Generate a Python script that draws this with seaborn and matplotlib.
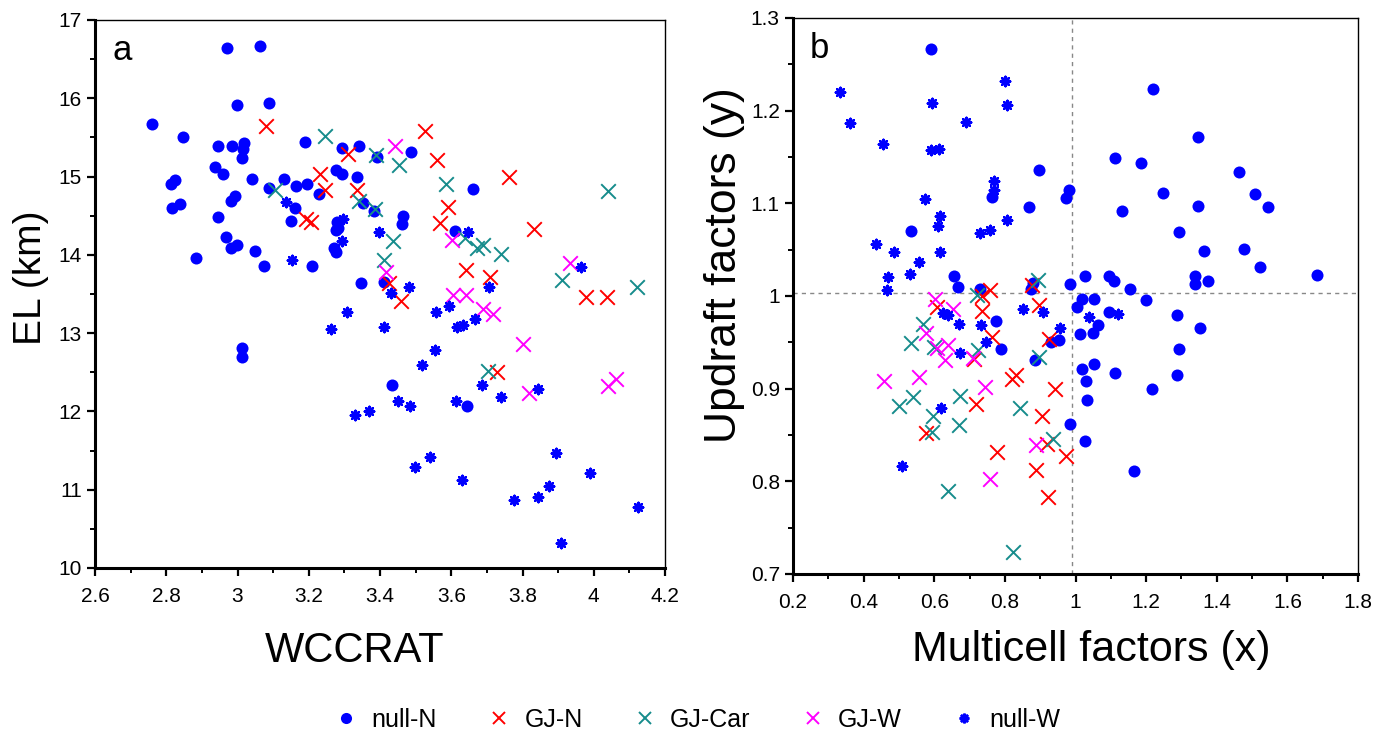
import numpy as np
import pandas as pd
import matplotlib
matplotlib.use("Agg")
import matplotlib.pyplot as plt
import seaborn as sns
from matplotlib.lines import Line2D
from matplotlib.ticker import MultipleLocator

# ---------------- Panel a data (WCCRAT vs EL) ----------------
a_nullN_x = [2.971, 3.063, 2.999, 3.089, 2.760, 2.847, 2.946, 2.985, 3.019, 3.016, 3.013, 3.190,
             3.294, 3.342, 3.392, 2.937, 2.960, 3.041, 3.131, 2.825, 2.813, 3.165, 3.195, 3.089,
             3.229, 3.277, 3.294, 3.336, 2.993, 2.982, 3.353, 3.383, 2.839, 2.816, 2.946, 3.162,
             3.150, 3.280, 3.283, 3.277, 2.968, 2.999, 2.982, 3.049, 3.271, 3.277, 2.884, 3.075,
             3.210, 3.347, 3.412, 3.488, 3.662, 3.465, 3.463, 3.611, 3.013, 3.013, 3.434, 3.645]
a_nullN_y = [16.64, 16.67, 15.91, 15.94, 15.67, 15.51, 15.39, 15.39, 15.43, 15.35, 15.24, 15.44,
             15.36, 15.39, 15.25, 15.12, 15.03, 14.97, 14.97, 14.96, 14.91, 14.88, 14.91, 14.85,
             14.78, 15.08, 15.03, 14.99, 14.75, 14.69, 14.66, 14.56, 14.65, 14.60, 14.48, 14.60,
             14.43, 14.42, 14.34, 14.32, 14.23, 14.13, 14.09, 14.05, 14.09, 14.04, 13.96, 13.86,
             13.86, 13.64, 13.65, 15.31, 14.84, 14.50, 14.39, 14.30, 12.81, 12.70, 12.34, 12.07]

a_gjN_x = [3.080, 3.311, 3.232, 3.246, 3.336, 3.193, 3.207, 3.527, 3.559, 3.763, 3.592, 3.567,
           3.833, 3.642, 3.709, 3.979, 4.038, 3.460, 3.729, 3.426]
a_gjN_y = [15.65, 15.29, 15.03, 14.83, 14.83, 14.46, 14.42, 15.58, 15.21, 14.99, 14.61, 14.41,
           14.33, 13.81, 13.72, 13.46, 13.46, 13.41, 12.50, 13.64]

a_gjCar_x = [3.246, 3.389, 3.106, 3.342, 3.387, 3.412, 3.454, 3.584, 4.041, 3.437, 3.639, 3.671,
             3.690, 3.740, 3.912, 4.122, 3.704]
a_gjCar_y = [15.52, 15.28, 14.83, 14.69, 14.58, 13.93, 15.15, 14.91, 14.82, 14.18, 14.22, 14.09,
             14.12, 14.01, 13.68, 13.59, 12.52]

a_gjW_x = [3.443, 3.603, 3.934, 3.417, 3.606, 3.642, 3.690, 3.718, 3.802, 3.819, 4.041, 4.063]
a_gjW_y = [15.39, 14.19, 13.90, 13.78, 13.49, 13.49, 13.31, 13.24, 12.86, 12.24, 12.33, 12.41]

a_nullW_x = [3.137, 3.297, 3.294, 3.398, 3.153, 3.648, 3.965, 3.482, 3.431, 3.706, 3.308, 3.263,
             3.412, 3.331, 3.370, 3.558, 3.594, 3.616, 3.634, 3.667, 3.555, 3.518, 3.687, 3.844,
             3.451, 3.485, 3.614, 3.740, 3.499, 3.541, 3.631, 3.895, 3.988, 3.775, 3.842, 3.875,
             4.125, 3.909]
a_nullW_y = [14.68, 14.46, 14.18, 14.29, 13.93, 14.29, 13.85, 13.59, 13.51, 13.59, 13.27, 13.05,
             13.08, 11.96, 12.01, 13.27, 13.35, 13.08, 13.10, 13.18, 12.79, 12.59, 12.34, 12.29,
             12.13, 12.07, 12.13, 12.18, 11.29, 11.42, 11.13, 11.47, 11.21, 10.87, 10.91, 11.05,
             10.78, 10.32]

# ---------------- Panel b data (Multicell vs Updraft factors) ----------------
b_nullN_x = [0.591, 0.897, 0.764, 0.869, 0.982, 0.973, 0.534, 0.656, 0.667, 0.730, 0.874, 0.880,
             0.985, 1.220, 1.347, 1.112, 1.186, 1.463, 1.248, 1.509, 1.347, 1.546, 1.132, 1.294,
             1.364, 1.478, 1.523, 1.027, 1.095, 1.109, 1.339, 1.339, 1.376, 1.684, 1.155, 1.019,
             1.053, 1.200, 1.005, 1.095, 1.288, 1.064, 1.013, 1.050, 1.353, 1.294, 1.019, 1.053,
             1.112, 1.288, 1.030, 1.217, 1.033, 0.985, 1.027, 1.166, 0.775, 0.789, 0.886, 0.931,
             0.954]
b_nullN_y = [1.2666, 1.136, 1.107, 1.096, 1.114, 1.106, 1.070, 1.022, 1.010, 1.007, 1.008, 1.014,
             1.013, 1.2234, 1.172, 1.149, 1.144, 1.134, 1.111, 1.110, 1.097, 1.096, 1.092, 1.069,
             1.049, 1.051, 1.031, 1.022, 1.022, 1.016, 1.022, 1.013, 1.016, 1.023, 1.007, 0.997,
             0.997, 0.996, 0.988, 0.983, 0.980, 0.969, 0.959, 0.960, 0.965, 0.943, 0.921, 0.927,
             0.917, 0.915, 0.908, 0.900, 0.888, 0.862, 0.844, 0.811, 0.973, 0.943, 0.931, 0.950,
             0.952]

b_gjN_x = [0.735, 0.608, 0.735, 0.897, 0.764, 0.925, 0.713, 0.820, 0.832, 0.718, 0.942, 0.905,
           0.577, 0.920, 0.778, 0.973, 0.888, 0.922, 0.877, 0.758]
b_gjN_y = [1.000, 0.988, 0.984, 0.990, 0.956, 0.954, 0.932, 0.910, 0.915, 0.883, 0.900, 0.871,
           0.852, 0.840, 0.832, 0.827, 0.812, 0.783, 1.012, 1.006]

b_gjCar_x = [0.721, 0.568, 0.534, 0.600, 0.724, 0.897, 0.540, 0.500, 0.673, 0.843, 0.597, 0.594,
             0.670, 0.937, 0.639, 0.823, 0.894]
b_gjCar_y = [1.001, 0.970, 0.949, 0.945, 0.942, 0.934, 0.891, 0.881, 0.892, 0.879, 0.871, 0.853,
             0.861, 0.846, 0.790, 0.724, 1.017]

b_gjW_x = [0.602, 0.653, 0.577, 0.608, 0.639, 0.631, 0.710, 0.458, 0.557, 0.744, 0.888, 0.758]
b_gjW_y = [0.997, 0.986, 0.960, 0.944, 0.947, 0.931, 0.933, 0.908, 0.913, 0.902, 0.839, 0.802]

b_nullW_x = [0.333, 0.361, 0.455, 0.594, 0.690, 0.800, 0.806, 0.591, 0.614, 0.574, 0.769, 0.769,
             0.616, 0.611, 0.806, 0.730, 0.758, 0.435, 0.486, 0.616, 0.557, 0.531, 0.469, 0.466,
             1.039, 1.121, 0.625, 0.639, 0.670, 0.732, 0.852, 0.908, 0.956, 0.747, 0.673, 0.619,
             0.509]
b_nullW_y = [1.220, 1.187, 1.164, 1.208, 1.188, 1.232, 1.206, 1.158, 1.159, 1.105, 1.124, 1.114,
             1.086, 1.076, 1.082, 1.068, 1.071, 1.056, 1.047, 1.047, 1.037, 1.024, 1.020, 1.006,
             0.977, 0.981, 0.982, 0.980, 0.970, 0.969, 0.986, 0.983, 0.965, 0.950, 0.939, 0.879,
             0.817]

group_names = ["null-N", "GJ-N", "GJ-Car", "GJ-W", "null-W"]
group_colors = ["#0000FF", "#FF0000", "#168C8C", "#FF00FF", "#0000FF"]
ref_x = 0.99
ref_y = 1.003

def frame(groups):
    rows = []
    for name, (xs, ys) in zip(group_names, groups):
        for x, y in zip(xs, ys):
            rows.append((x, y, name))
    return pd.DataFrame(rows, columns=["x", "y", "group"])

df_a = frame([(a_nullN_x, a_nullN_y), (a_gjN_x, a_gjN_y), (a_gjCar_x, a_gjCar_y),
              (a_gjW_x, a_gjW_y), (a_nullW_x, a_nullW_y)])
df_b = frame([(b_nullN_x, b_nullN_y), (b_gjN_x, b_gjN_y), (b_gjCar_x, b_gjCar_y),
              (b_gjW_x, b_gjW_y), (b_nullW_x, b_nullW_y)])

sns.set_theme(style="ticks")
plt.rcParams['font.family'] = ['Liberation Sans', 'DejaVu Sans']
plt.rcParams['text.color'] = 'black'
plt.rcParams['axes.labelcolor'] = 'black'
plt.rcParams['xtick.color'] = 'black'
plt.rcParams['ytick.color'] = 'black'

fig = plt.figure(figsize=(13.89, 7.34), dpi=100)
ax_a = fig.add_axes([0.0684, 0.2262, 0.4104, 0.7466])
ax_b = fig.add_axes([0.5709, 0.2180, 0.4068, 0.7575])

STAR = (8, 2, 0)

def draw(ax, df):
    for name, col in zip(group_names, group_colors):
        sub = df[df["group"] == name]
        if name == "null-W":
            sns.scatterplot(data=sub, x="x", y="y", ax=ax, color=col, marker=STAR,
                            s=45, linewidth=1.8, edgecolor=col, legend=False)
        elif name == "null-N":
            sns.scatterplot(data=sub, x="x", y="y", ax=ax, color=col, marker="o",
                            s=75, linewidth=0, legend=False)
        else:
            sns.scatterplot(data=sub, x="x", y="y", ax=ax, color=col, marker="x",
                            s=110, linewidth=1.4, legend=False)

def style_axes(ax):
    for sp in ax.spines.values():
        sp.set_visible(True)
        sp.set_linewidth(1.0)
        sp.set_color("black")
    ax.spines["left"].set_linewidth(2.2)
    ax.spines["bottom"].set_linewidth(2.2)
    ax.tick_params(which="major", direction="out", length=5.5, width=1.6, labelsize=15,
                   colors="black")
    ax.tick_params(axis="x", which="major", pad=8)
    ax.tick_params(axis="y", which="major", pad=4)
    ax.tick_params(which="minor", direction="out", length=3.5, width=1.4)
    ax.set_facecolor("white")

draw(ax_a, df_a)
ax_a.set_xlim(2.6, 4.2)
ax_a.set_ylim(10, 17)
ax_a.set_xticks(np.arange(2.6, 4.21, 0.2))
ax_a.set_xticklabels(["2.6", "2.8", "3", "3.2", "3.4", "3.6", "3.8", "4", "4.2"])
ax_a.xaxis.set_minor_locator(MultipleLocator(0.1))
ax_a.set_yticks(np.arange(10, 17.1, 1))
ax_a.set_yticklabels([str(v) for v in range(10, 18)])
ax_a.yaxis.set_minor_locator(MultipleLocator(0.5))
ax_a.set_xlabel("WCCRAT", fontsize=30, labelpad=18)
ax_a.set_ylabel("EL (km)", fontsize=28, labelpad=7)
ax_a.xaxis.label.set_x(0.456)
ax_a.yaxis.label.set_y(0.529)
style_axes(ax_a)
ax_a.text(0.03, 0.975, "a", transform=ax_a.transAxes, fontsize=25, va="top", ha="left")

draw(ax_b, df_b)
ax_b.axvline(ref_x, color="#888888", linestyle=(0, (3, 3)), linewidth=1.0, zorder=0)
ax_b.axhline(ref_y, color="#888888", linestyle=(0, (3, 3)), linewidth=1.0, zorder=0)
ax_b.set_xlim(0.2, 1.8)
ax_b.set_ylim(0.7, 1.3)
ax_b.set_xticks(np.arange(0.2, 1.81, 0.2))
ax_b.set_xticklabels(["0.2", "0.4", "0.6", "0.8", "1", "1.2", "1.4", "1.6", "1.8"])
ax_b.xaxis.set_minor_locator(MultipleLocator(0.1))
ax_b.set_yticks(np.arange(0.7, 1.31, 0.1))
ax_b.set_yticklabels(["0.7", "0.8", "0.9", "1", "1.1", "1.2", "1.3"])
ax_b.yaxis.set_minor_locator(MultipleLocator(0.05))
ax_b.set_xlabel("Multicell factors (x)", fontsize=31, labelpad=13)
ax_b.set_ylabel("Updraft factors (y)", fontsize=32, labelpad=4)
ax_b.xaxis.label.set_x(0.527)
ax_b.yaxis.label.set_y(0.556)
style_axes(ax_b)
ax_b.text(0.03, 0.975, "b", transform=ax_b.transAxes, fontsize=25, va="top", ha="left")

handles = [
    Line2D([], [], linestyle="none", marker="o", color="#0000FF", markersize=8, markeredgewidth=0),
    Line2D([], [], linestyle="none", marker="x", color="#FF0000", markersize=9, markeredgewidth=1.4),
    Line2D([], [], linestyle="none", marker="x", color="#168C8C", markersize=9, markeredgewidth=1.4),
    Line2D([], [], linestyle="none", marker="x", color="#FF00FF", markersize=9, markeredgewidth=1.4),
    Line2D([], [], linestyle="none", marker=STAR, color="#0000FF", markersize=7, markeredgewidth=1.8),
]
fig.legend(handles, group_names, loc="center", bbox_to_anchor=(0.501, 0.019), ncol=5,
           frameon=False, fontsize=18, columnspacing=1.9, handletextpad=0.4, handlelength=1.2)

fig.savefig("out.png", dpi=100, facecolor="white")
